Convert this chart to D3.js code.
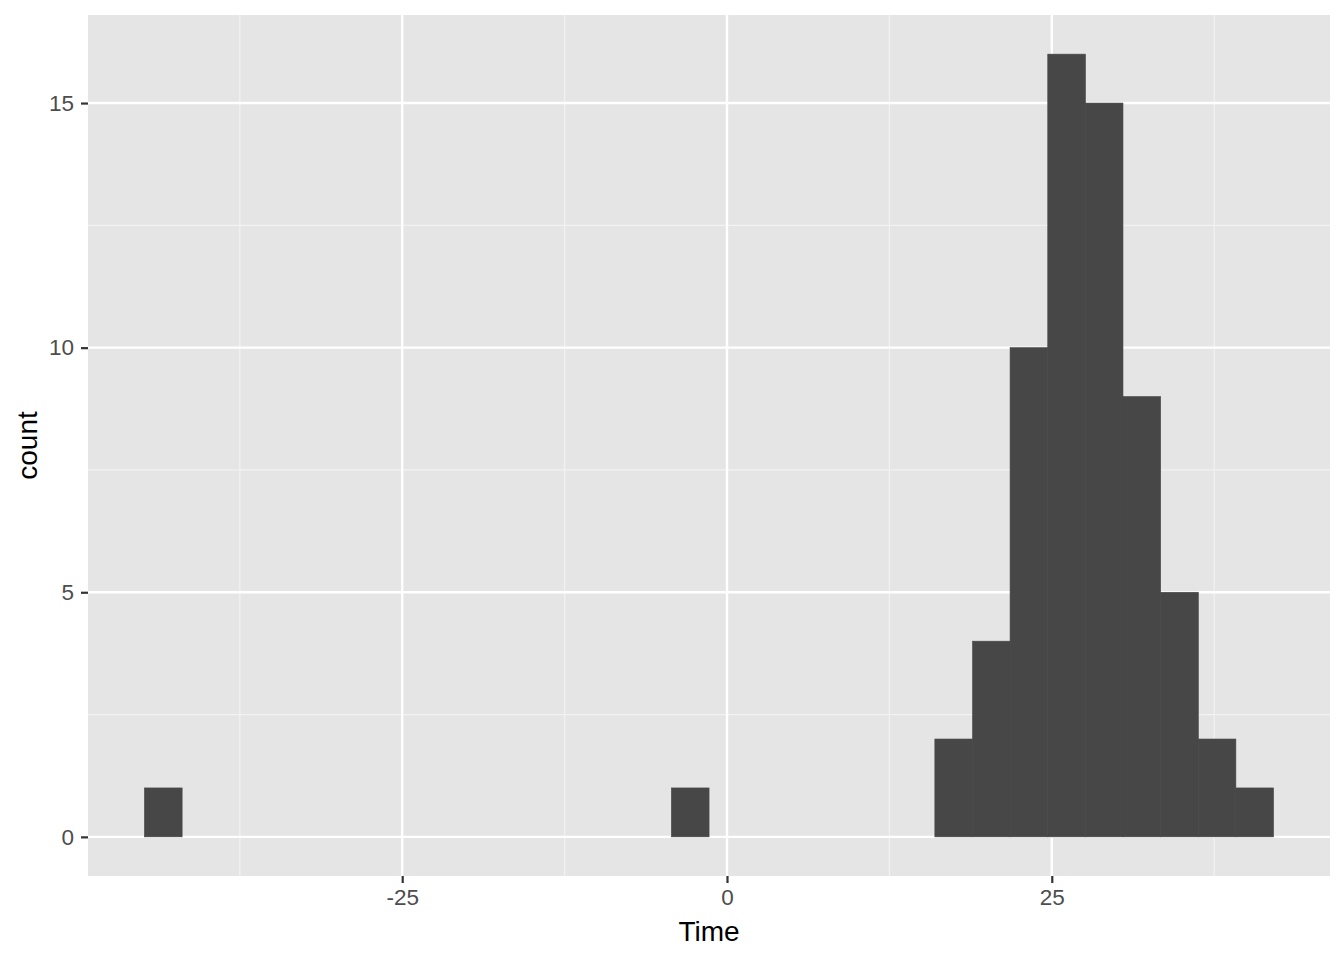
<!DOCTYPE html>
<html>
<head>
<meta charset="utf-8">
<script src="https://cdn.jsdelivr.net/npm/d3@7"></script>
<style>
  body { margin: 0; background: #fff; }
  text { font-family: "Liberation Sans", Arial, sans-serif; }
</style>
</head>
<body>
<div id="chart"></div>
<script>
// histogram bins (non-empty ones only)
const binLo  = [-44.84, -4.28, 16.00, 18.90, 21.79, 24.69, 27.59, 30.48, 33.38, 36.28, 39.17];
const binHi  = [-41.94, -1.38, 18.90, 21.79, 24.69, 27.59, 30.48, 33.38, 36.28, 39.17, 42.07];
const counts = [1, 1, 2, 4, 10, 16, 15, 9, 5, 2, 1];

const xBreaks = [-25, 0, 25];
const xMinor = [-37.5, -12.5, 12.5, 37.5];
const yBreaks = [0, 5, 10, 15];
const yMinor = [2.5, 7.5, 12.5];

const width = 1344, height = 960;
const margin = {top: 15, right: 14, bottom: 84, left: 88};
const pw = width - margin.left - margin.right;
const ph = height - margin.top - margin.bottom;

// ggplot style 5% expansion
const xlo = d3.min(binLo), xhi = d3.max(binHi);
const xpad = (xhi - xlo) * 0.05;
const x = d3.scaleLinear().domain([xlo - xpad, xhi + xpad]).range([0, pw]);
const ymax = d3.max(counts);
const y = d3.scaleLinear().domain([-ymax * 0.05, ymax * 1.05]).range([ph, 0]);

const svg = d3.select('#chart').append('svg')
    .attr('width', width)
    .attr('height', height);

const g = svg.append('g').attr('transform', `translate(${margin.left},${margin.top})`);

g.append('rect')
    .attr('width', pw)
    .attr('height', ph)
    .attr('fill', '#e5e5e5');

// minor grid
g.selectAll('.xminor').data(xMinor).enter().append('line')
    .attr('x1', d => x(d)).attr('x2', d => x(d))
    .attr('y1', 0).attr('y2', ph)
    .attr('stroke', '#f2f2f2').attr('stroke-width', 1.2);
g.selectAll('.yminor').data(yMinor).enter().append('line')
    .attr('y1', d => y(d)).attr('y2', d => y(d))
    .attr('x1', 0).attr('x2', pw)
    .attr('stroke', '#f2f2f2').attr('stroke-width', 1.2);

// major grid
g.selectAll('.xmajor').data(xBreaks).enter().append('line')
    .attr('x1', d => x(d)).attr('x2', d => x(d))
    .attr('y1', 0).attr('y2', ph)
    .attr('stroke', '#fff').attr('stroke-width', 2.4);
g.selectAll('.ymajor').data(yBreaks).enter().append('line')
    .attr('y1', d => y(d)).attr('y2', d => y(d))
    .attr('x1', 0).attr('x2', pw)
    .attr('stroke', '#fff').attr('stroke-width', 2.4);

// bars
g.selectAll('.bar').data(counts).enter().append('rect')
    .attr('x', (d, i) => x(binLo[i]))
    .attr('width', (d, i) => x(binHi[i]) - x(binLo[i]))
    .attr('y', d => y(d))
    .attr('height', d => y(0) - y(d))
    .attr('fill', '#474747')
    .attr('stroke', '#474747')
    .attr('stroke-width', 0.6);

// axes
const xAxis = g.append('g')
    .attr('transform', `translate(0,${ph})`)
    .call(d3.axisBottom(x).tickValues(xBreaks).tickSize(7).tickPadding(6).tickFormat(d3.format('d')));
const yAxis = g.append('g')
    .call(d3.axisLeft(y).tickValues(yBreaks).tickSize(7).tickPadding(7).tickFormat(d3.format('d')));

[xAxis, yAxis].forEach(a => {
    a.attr('font-size', 22.5).attr('font-family', '"Liberation Sans", Arial, sans-serif');
    a.select('.domain').remove();
    a.selectAll('.tick line').attr('stroke', '#333').attr('stroke-width', 2.2);
    a.selectAll('.tick text').attr('fill', '#4d4d4d');
});
xAxis.selectAll('.tick text').text(d => d < 0 ? '-' + Math.abs(d) : d);

// axis titles
svg.append('text')
    .attr('x', margin.left + pw / 2)
    .attr('y', 941)
    .attr('text-anchor', 'middle')
    .attr('font-size', 28)
    .text('Time');

svg.append('text')
    .attr('transform', `translate(37,${margin.top + ph / 2}) rotate(-90)`)
    .attr('text-anchor', 'middle')
    .attr('font-size', 28)
    .text('count');
</script>
</body>
</html>
